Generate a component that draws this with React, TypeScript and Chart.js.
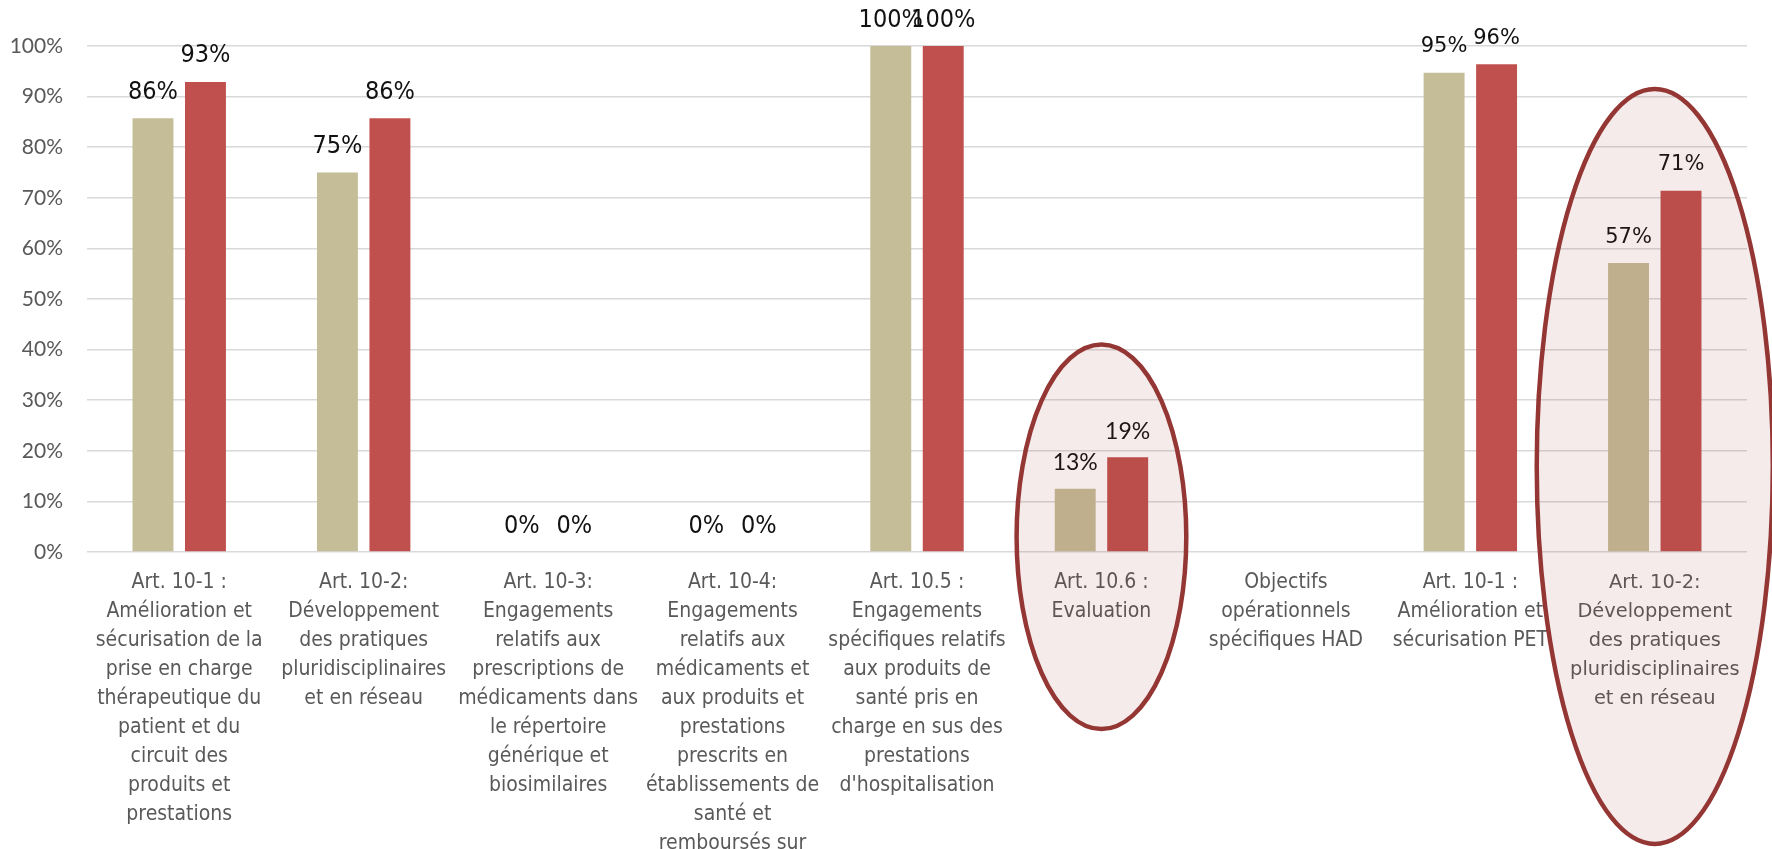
import React, { useEffect, useRef } from "react";
import { Chart, registerables } from "chart.js";

Chart.register(...registerables);

const categories: string[][] = [
  ["Art. 10-1 :", "Amélioration et", "sécurisation de la", "prise en charge", "thérapeutique du", "patient et du", "circuit des", "produits et", "prestations"],
  ["Art. 10-2:", "Développement", "des pratiques", "pluridisciplinaires", "et en réseau"],
  ["Art. 10-3:", "Engagements", "relatifs aux", "prescriptions de", "médicaments dans", "le répertoire", "générique et", "biosimilaires"],
  ["Art. 10-4:", "Engagements", "relatifs aux", "médicaments et", "aux produits et", "prestations", "prescrits en", "établissements de", "santé et", "remboursés sur"],
  ["Art. 10.5 :", "Engagements", "spécifiques relatifs", "aux produits de", "santé pris en", "charge en sus des", "prestations", "d'hospitalisation"],
  ["Art. 10.6 :", "Evaluation"],
  ["Objectifs", "opérationnels", "spécifiques HAD"],
  ["Art. 10-1 :", "Amélioration et", "sécurisation PET"],
  ["Art. 10-2:", "Développement", "des pratiques", "pluridisciplinaires", "et en réseau"],
];

const seriesNames = ["Série 1", "Série 2"];
const seriesA: (number | null)[] = [0.857, 0.75, 0, 0, 1, 0.125, null, 0.947, 0.571];
const seriesB: (number | null)[] = [0.929, 0.857, 0, 0, 1, 0.1875, null, 0.964, 0.714];

const yTickValues = [0, 0.1, 0.2, 0.3, 0.4, 0.5, 0.6, 0.7, 0.8, 0.9, 1];

// highlighted categories (ellipse annotations)
const highlightCategories = [5, 8];

const NARROW = '"Liberation Sans Narrow", "Arial Narrow", "DejaVu Sans Condensed", sans-serif';
const DEJAVU = '"DejaVu Sans", Verdana, sans-serif';
const LATO = 'Lato, "Open Sans", sans-serif';

const pct = (v: number) => Math.round(v * 100) + "%";

const dataLabelFont = (idx: number) => {
  if (idx === 5) return `23px ${LATO}`;
  if (idx >= 7) return `21px ${DEJAVU}`;
  return `25px ${NARROW}`;
};

const dataLabelsPlugin = {
  id: "dataLabels",
  afterDatasetsDraw(chart: any) {
    const ctx = chart.ctx;
    ctx.save();
    ctx.textAlign = "center";
    ctx.textBaseline = "middle";
    ctx.fillStyle = "#111111";
    chart.data.datasets.forEach((ds: any, di: number) => {
      const meta = chart.getDatasetMeta(di);
      meta.data.forEach((bar: any, i: number) => {
        const v = ds.data[i];
        if (v === null || v === undefined) return;
        ctx.font = dataLabelFont(i);
        ctx.fillText(pct(v), bar.x, bar.y - 26);
      });
    });
    ctx.restore();
  },
};

// ellipse geometry: half width in category units, top/bottom in value units
const ellipseHalfWidth = [0.46, 0.64];
const ellipseTop = [0.41, 0.915];
const ellipseBottom = [-0.35, -0.577];

const ellipsePlugin = {
  id: "ellipses",
  afterDraw(chart: any) {
    const ctx = chart.ctx;
    const xs = chart.scales.x;
    const ys = chart.scales.y;
    const catW = xs.getPixelForValue(1) - xs.getPixelForValue(0);
    ctx.save();
    highlightCategories.forEach((c, k) => {
      const cx = xs.getPixelForValue(c);
      const top = ys.getPixelForValue(ellipseTop[k]);
      const bottom = ys.getPixelForValue(ellipseBottom[k]);
      const cy = (top + bottom) / 2;
      const ry = (bottom - top) / 2;
      const rx = ellipseHalfWidth[k] * catW;
      ctx.beginPath();
      ctx.ellipse(cx, cy, rx, ry, 0, 0, Math.PI * 2);
      ctx.fillStyle = "rgba(148, 54, 52, 0.10)";
      ctx.fill();
      ctx.lineWidth = 4.5;
      ctx.strokeStyle = "#943634";
      ctx.stroke();
    });
    ctx.restore();
  },
};

export default function App() {
  const ref = useRef<HTMLCanvasElement | null>(null);
  useEffect(() => {
    if (!ref.current) return;
    const chart = new Chart(ref.current, {
      type: "bar",
      data: {
        labels: categories,
        datasets: [
          { label: seriesNames[0], data: seriesA, backgroundColor: "#C4BD97", categoryPercentage: 0.569, barPercentage: 0.78 },
          { label: seriesNames[1], data: seriesB, backgroundColor: "#C0504D", categoryPercentage: 0.569, barPercentage: 0.78 },
        ],
      },
      options: {
        responsive: false,
        animation: false,
        devicePixelRatio: 1,
        layout: { padding: { top: 46, right: 25, left: 0, bottom: 0 } },
        plugins: { legend: { display: false }, tooltip: { enabled: false }, title: { display: false } },
        scales: {
          x: {
            grid: { display: false, drawTicks: false },
            border: { display: false },
            ticks: {
              autoSkip: false,
              maxRotation: 0,
              minRotation: 0,
              padding: 16,
              color: "#595959",
              font: (c: any) =>
                c.index === 8
                  ? { family: DEJAVU, size: 19.4, lineHeight: 29 / 19.4 }
                  : { family: NARROW, size: 21, lineHeight: 29 / 21 },
            },
            afterFit: (s: any) => {
              s.height = 1000 - 552;
            },
          },
          y: {
            min: 0,
            max: 1,
            afterBuildTicks: (s: any) => {
              s.ticks = yTickValues.map((v) => ({ value: v }));
            },
            grid: { color: "#D9D9D9", lineWidth: 1.6, drawTicks: false },
            border: { display: false },
            ticks: {
              padding: 24,
              color: "#595959",
              font: { family: LATO, size: 21 },
              callback: (v: any) => pct(Number(v)),
            },
            afterFit: (s: any) => {
              s.width = 87;
            },
          },
        },
      },
      plugins: [dataLabelsPlugin, ellipsePlugin],
    } as any);
    return () => chart.destroy();
  }, []);
  return (
    <div style={{ position: "fixed", left: 0, top: 0, width: 1772, height: 849, overflow: "hidden", background: "#fff" }}>
      <canvas ref={ref} width={1772} height={1000} style={{ display: "block" }} />
    </div>
  );
}
